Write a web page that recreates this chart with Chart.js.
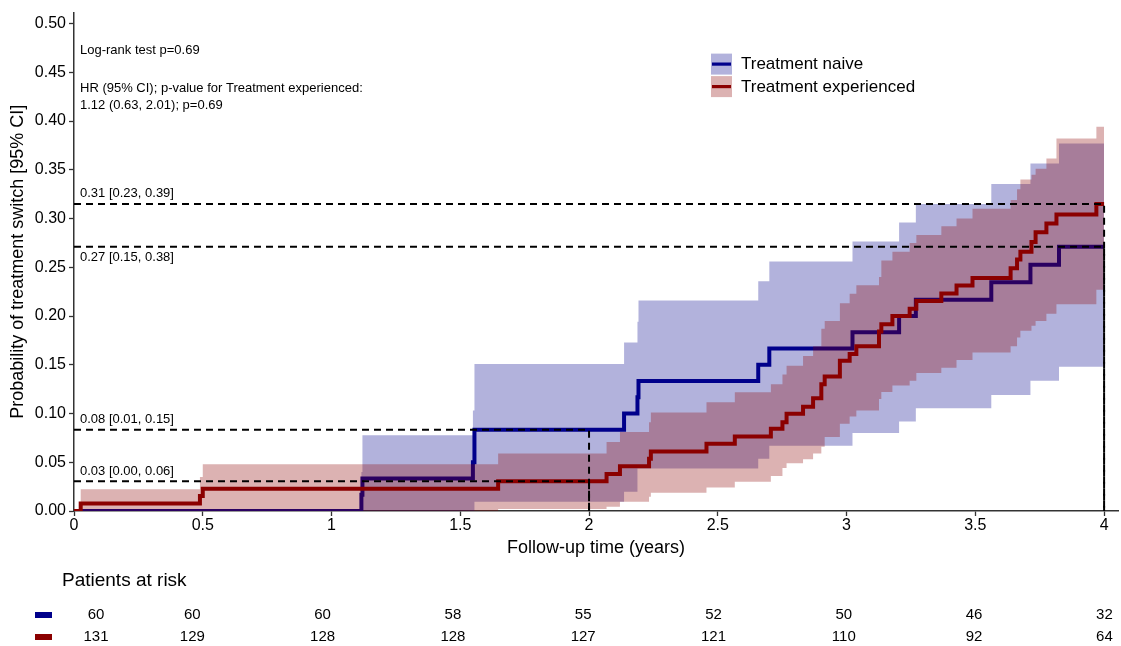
<!DOCTYPE html>
<html>
<head>
<meta charset="utf-8">
<script src="https://cdn.jsdelivr.net/npm/chart.js@4"></script>
<style>
  html, body { margin: 0; padding: 0; background: #fff; }
</style>
</head>
<body>
<canvas id="km" width="1121" height="646"></canvas>
<script>
// cumulative incidence of treatment switch
const naiveTime = [0, 1.116, 1.12, 1.549, 1.555, 2.136, 2.188, 2.192, 2.657, 2.70, 3.023, 3.204, 3.269, 3.562, 3.714, 3.825, 4.0];
const naiveEst  = [0, 0.0167, 0.0333, 0.05, 0.0833, 0.1, 0.1167, 0.1333, 0.15, 0.1667, 0.1833, 0.2, 0.2167, 0.2345, 0.2525, 0.271, 0.271];
const naiveLow  = [0, 0, 0, 0, 0.0095, 0.0197, 0.0435, 0.0435, 0.0537, 0.067, 0.0799, 0.0918, 0.1054, 0.119, 0.1337, 0.148, 0.148];
const naiveHigh = [0, 0.04, 0.0776, 0.103, 0.1507, 0.1728, 0.194, 0.216, 0.2357, 0.256, 0.2765, 0.296, 0.315, 0.3354, 0.3565, 0.377, 0.377];

const expTime = [0, 0.026, 0.489, 0.50, 1.647, 2.068, 2.12, 2.233, 2.24, 2.456, 2.566, 2.706, 2.751, 2.767, 2.831, 2.870, 2.902, 2.915, 2.974,
                 3.012, 3.038, 3.126, 3.135, 3.178, 3.245, 3.271, 3.368, 3.427, 3.489, 3.637, 3.662, 3.675, 3.718, 3.734, 3.776, 3.815, 3.970, 4.0];
const expEst  = [0, 0.0076, 0.0153, 0.0229, 0.0305, 0.038, 0.046, 0.0535, 0.061, 0.069, 0.0765, 0.0844, 0.091, 0.0997, 0.107, 0.1156, 0.130, 0.138, 0.154,
                 0.161, 0.169, 0.184, 0.1915, 0.2, 0.2075, 0.2153, 0.2232, 0.2313, 0.239, 0.249, 0.258, 0.266, 0.276, 0.286, 0.295, 0.304, 0.315, 0.315];
const expLow  = [0, 0, 0, 0, 0.002, 0.0044, 0.0095, 0.0146, 0.0187, 0.024, 0.030, 0.036, 0.044, 0.049, 0.053, 0.059, 0.066, 0.0758, 0.0895,
                 0.097, 0.103, 0.115, 0.122, 0.1286, 0.1337, 0.1415, 0.147, 0.155, 0.1626, 0.169, 0.178, 0.185, 0.19, 0.195, 0.2024, 0.212, 0.227, 0.227];
const expHigh = [0, 0.0224, 0.035, 0.048, 0.059, 0.0707, 0.081, 0.091, 0.101, 0.1115, 0.1217, 0.130, 0.140, 0.149, 0.159, 0.169, 0.187, 0.195, 0.213,
                 0.2228, 0.2316, 0.240, 0.257, 0.266, 0.275, 0.283, 0.292, 0.300, 0.31, 0.319, 0.330, 0.340, 0.345, 0.351, 0.3615, 0.382, 0.394, 0.394];

const groupNames = ['Treatment naive', 'Treatment experienced'];

const xTicks = [0, 0.5, 1, 1.5, 2, 2.5, 3, 3.5, 4];
const xTickLabels = ['0', '0.5', '1', '1.5', '2', '2.5', '3', '3.5', '4'];
const yTicks = [0, 0.05, 0.1, 0.15, 0.2, 0.25, 0.3, 0.35, 0.4, 0.45, 0.5];

// patients at risk
const riskNaive = [60, 60, 60, 58, 55, 52, 50, 46, 32];
const riskExp = [131, 129, 128, 128, 127, 121, 110, 92, 64];

// dashed reference marks
const markGroup = ['exp', 'naive', 'naive', 'exp'];
const markTime = [4, 4, 2, 2];
const markText = ['0.31 [0.23, 0.39]', '0.27 [0.15, 0.38]', '0.08 [0.01, 0.15]', '0.03 [0.00, 0.06]'];
const markBelow = [false, true, false, false];

const statLines = ['Log-rank test p=0.69', 'HR (95% CI); p-value for Treatment experienced:', '1.12 (0.63, 2.01); p=0.69'];

const FONT = '"Liberation Sans", Arial, sans-serif';
const NAVY = '#00008B';
const DRED = '#8B0000';
const NAVY_BAND = 'rgba(0, 0, 139, 0.3)';
const DRED_BAND = 'rgba(139, 0, 0, 0.3)';

function pts(t, v) {
    return t.map((ti, i) => ({ x: ti, y: v[i] }));
}

function valueAt(t, v, at) {
    let r = v[0];
    for (let i = 0; i < t.length; i++) if (t[i] <= at) r = v[i];
    return r;
}

const dashSets = markTime.map((t, i) => {
    const v = markGroup[i] === 'exp' ? valueAt(expTime, expEst, t) : valueAt(naiveTime, naiveEst, t);
    return {
        data: [{ x: 0, y: v }, { x: t, y: v }, { x: t, y: 0 }],
        borderColor: '#000',
        borderWidth: 2,
        borderDash: [7, 5],
        pointRadius: 0,
        fill: false
    };
});

function stepSet(data, color, width, fill, bg) {
    return {
        data: data,
        stepped: 'before',
        borderColor: width ? color : 'rgba(0,0,0,0)',
        borderWidth: width,
        backgroundColor: bg || 'rgba(0,0,0,0)',
        fill: fill,
        pointRadius: 0
    };
}

// drawn last-to-first: blue band, blue line, red band, red line, dashes on top
const datasets = [
    ...dashSets,
    stepSet(pts(expTime, expEst), DRED, 4, false),
    stepSet(pts(expTime, expHigh), DRED, 0, '+1', DRED_BAND),
    stepSet(pts(expTime, expLow), DRED, 0, false),
    stepSet(pts(naiveTime, naiveEst), NAVY, 4, false),
    stepSet(pts(naiveTime, naiveHigh), NAVY, 0, '+1', NAVY_BAND),
    stepSet(pts(naiveTime, naiveLow), NAVY, 0, false)
];

const decor = {
    id: 'decor',
    afterDraw(chart) {
        const { ctx, chartArea: a, scales: { x, y } } = chart;
        ctx.save();
        ctx.fillStyle = '#000';
        ctx.textBaseline = 'middle';
        ctx.textAlign = 'left';

        // test statistics
        ctx.font = '13px ' + FONT;
        ctx.fillText(statLines[0], a.left + 6, a.top + 38);
        ctx.fillText(statLines[1], a.left + 6, a.top + 76);
        ctx.fillText(statLines[2], a.left + 6, a.top + 93);

        // labels of the dashed marks
        markText.forEach((txt, i) => {
            const v = markGroup[i] === 'exp' ? valueAt(expTime, expEst, markTime[i]) : valueAt(naiveTime, naiveEst, markTime[i]);
            const py = y.getPixelForValue(v) + (markBelow[i] ? 11 : -10);
            ctx.fillText(txt, a.left + 6, py);
        });

        // legend
        const lx = a.left + 637, ly = [a.top + 41, a.top + 63.5];
        [[NAVY_BAND, NAVY], [DRED_BAND, DRED]].forEach(([bg, col], i) => {
            ctx.fillStyle = bg;
            ctx.fillRect(lx, ly[i], 21, 21);
            ctx.strokeStyle = col;
            ctx.lineWidth = 3.2;
            ctx.beginPath();
            ctx.moveTo(lx + 1, ly[i] + 10.5);
            ctx.lineTo(lx + 20, ly[i] + 10.5);
            ctx.stroke();
            ctx.fillStyle = '#000';
            ctx.font = '17px ' + FONT;
            ctx.fillText(groupNames[i], lx + 30, ly[i] + 11);
        });

        // risk table
        ctx.font = '19px ' + FONT;
        ctx.fillText('Patients at risk', 62, 581);
        ctx.font = '15px ' + FONT;
        ctx.textAlign = 'center';
        const rows = [[riskNaive, NAVY, 615], [riskExp, DRED, 637]];
        rows.forEach(([vals, col, ry]) => {
            ctx.fillStyle = col;
            ctx.fillRect(35, ry - 3, 17, 6);
            ctx.fillStyle = '#000';
            vals.forEach((n, i) => {
                const cx = Math.max(96, 62 + xTicks[i] * 260.6);
                ctx.fillText(String(n), cx, ry);
            });
        });
        ctx.restore();
    }
};

new Chart(document.getElementById('km').getContext('2d'), {
    type: 'line',
    data: { datasets: datasets },
    options: {
        responsive: false,
        animation: false,
        events: [],
        layout: { padding: { top: 10, right: 3, bottom: 83, left: 0 } },
        plugins: {
            legend: { display: false },
            tooltip: { enabled: false }
        },
        scales: {
            x: {
                type: 'linear',
                min: 0,
                max: 4.054,
                afterFit: s => { s.height = 52; },
                afterBuildTicks: s => { s.ticks = xTicks.map(v => ({ value: v })); },
                ticks: {
                    callback: (v) => xTickLabels[xTicks.indexOf(v)],
                    color: '#000',
                    font: { family: FONT, size: 16 },
                    padding: 0,
                    maxRotation: 0
                },
                grid: { drawOnChartArea: false, drawTicks: true, tickLength: 5, tickColor: '#333', tickWidth: 1.3 },
                border: { display: true, color: '#333', width: 1.5 },
                title: { display: true, text: 'Follow-up time (years)', color: '#000', font: { family: FONT, size: 18 }, padding: { top: 4, bottom: 4 } }
            },
            y: {
                type: 'linear',
                min: 0,
                max: 0.5112,
                afterFit: s => { s.width = 74; },
                afterBuildTicks: s => { s.ticks = yTicks.map(v => ({ value: v })); },
                ticks: {
                    callback: (v) => v.toFixed(2),
                    color: '#000',
                    font: { family: FONT, size: 16 },
                    padding: 3
                },
                grid: { drawOnChartArea: false, drawTicks: true, tickLength: 5, tickColor: '#333', tickWidth: 1.3 },
                border: { display: true, color: '#333', width: 1.5 },
                title: { display: true, text: 'Probability of treatment switch [95% CI]', color: '#000', font: { family: FONT, size: 18 }, padding: { top: 7, bottom: 4 } }
            }
        }
    },
    plugins: [decor]
});
</script>
</body>
</html>
